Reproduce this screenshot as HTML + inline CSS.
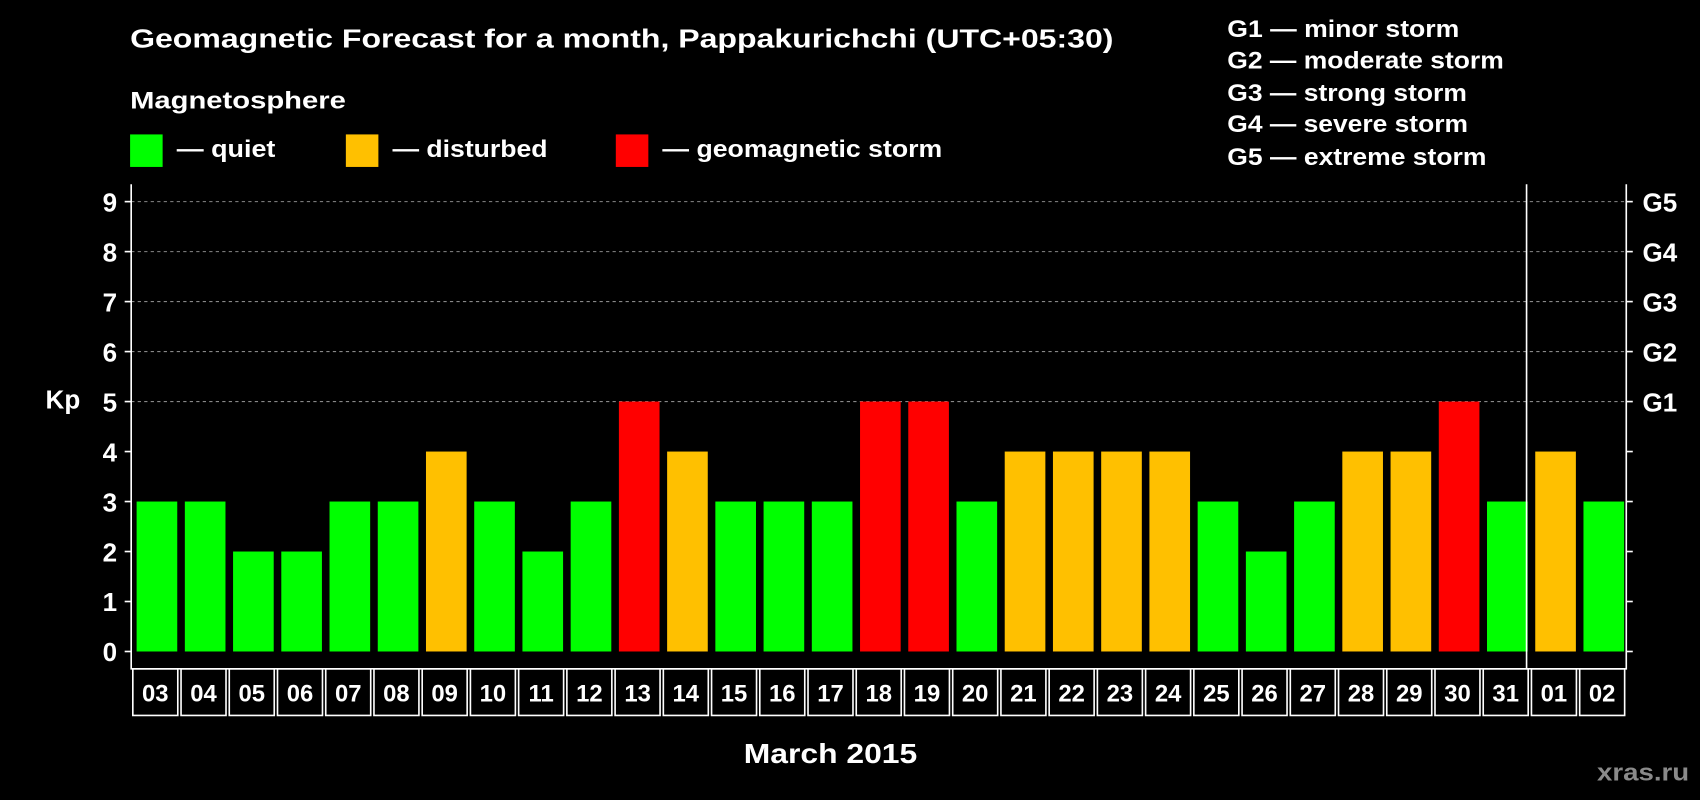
<!DOCTYPE html>
<html><head><meta charset="utf-8"><style>
html,body{margin:0;padding:0;background:#000;}
svg{display:block;}
text{font-family:"Liberation Sans",Arial,sans-serif;font-weight:bold;fill:#fff;}
</style></head><body>
<svg id="chart" width="1700" height="800" viewBox="0 0 1568 738" preserveAspectRatio="none" xmlns="http://www.w3.org/2000/svg">
<rect x="0" y="0" width="1568" height="738" fill="#000"/>
<text x="120" y="44" font-size="24" textLength="907" lengthAdjust="spacingAndGlyphs">Geomagnetic Forecast for a month, Pappakurichchi (UTC+05:30)</text>
<text x="120" y="100" font-size="22" textLength="199" lengthAdjust="spacingAndGlyphs">Magnetosphere</text>
<g>
<rect x="120" y="124" width="30" height="30" fill="#00ff00"/>
<text x="163" y="145" font-size="22" textLength="91" lengthAdjust="spacingAndGlyphs">— quiet</text>
<rect x="319" y="124" width="30" height="30" fill="#ffc000"/>
<text x="362" y="145" font-size="22" textLength="143" lengthAdjust="spacingAndGlyphs">— disturbed</text>
<rect x="568" y="124" width="30" height="30" fill="#ff0000"/>
<text x="611" y="145" font-size="22" textLength="258" lengthAdjust="spacingAndGlyphs">— geomagnetic storm</text>
</g>
<g font-size="22">
<text x="1132" y="34" textLength="214" lengthAdjust="spacingAndGlyphs">G1 — minor storm</text>
<text x="1132" y="63" textLength="255" lengthAdjust="spacingAndGlyphs">G2 — moderate storm</text>
<text x="1132" y="93" textLength="221" lengthAdjust="spacingAndGlyphs">G3 — strong storm</text>
<text x="1132" y="122" textLength="222" lengthAdjust="spacingAndGlyphs">G4 — severe storm</text>
<text x="1132" y="152" textLength="239" lengthAdjust="spacingAndGlyphs">G5 — extreme storm</text>
</g>
<g id="grid"></g>
<g id="bars"></g>
<g id="axes"></g>
<text x="58" y="377" font-size="24" text-anchor="middle">Kp</text>
<text x="686" y="704" font-size="26" textLength="160" lengthAdjust="spacingAndGlyphs">March 2015</text>
<text x="1473" y="720" font-size="22" textLength="85" lengthAdjust="spacingAndGlyphs" style="fill:#8a8a8a">xras.ru</text>
</svg>
<script>
const categories=["03","04","05","06","07","08","09","10","11","12","13","14","15","16","17","18","19","20","21","22","23","24","25","26","27","28","29","30","31","01","02"];
const kpValues=[3,3,2,2,3,3,4,3,2,3,5,4,3,3,3,5,5,3,4,4,4,4,3,2,3,4,4,5,3,4,3];
const yTicks=[0,1,2,3,4,5,6,7,8,9];
const gLabels=["G1","G2","G3","G4","G5"];
const NS="http://www.w3.org/2000/svg";
const X0=121,X1=1500,Y0=601,YTOP=186,PT=170,PB=617;
const colW=(X1-X0)/categories.length;
const y=v=>Y0-(Y0-YTOP)*v/9;
const x=i=>X0+i*colW;
function mk(tag,attrs,parent){const e=document.createElementNS(NS,tag);for(const k in attrs)e.setAttribute(k,attrs[k]);parent.appendChild(e);return e;}
const grid=document.getElementById('grid'),bars=document.getElementById('bars'),axes=document.getElementById('axes');
yTicks.forEach(t=>{
  if(t>=5){const l=mk('line',{x1:X0,x2:X1,y1:y(t),y2:y(t),stroke:'#888','stroke-dasharray':'3,3','stroke-width':1},grid);
  
  }
  const tk=mk('line',{x1:X0-6,x2:X0,y1:y(t),y2:y(t),stroke:'#fff','stroke-width':1.5},axes);
  
  
  const tr=mk('line',{x1:X1,x2:X1+6,y1:y(t),y2:y(t),stroke:'#fff','stroke-width':1.5},axes);
  
  
  const tx=mk('text',{x:X0-13,y:y(t)+9,'font-size':24,'text-anchor':'end'},axes);tx.textContent=t;
  
  
});
gLabels.forEach((g,i)=>{const t=mk('text',{x:X1+15,y:y(5+i)+9,'font-size':24},axes);t.textContent=g;
  
  });
kpValues.forEach((v,i)=>{
  const c=v>=5?'#ff0000':v>=4?'#ffc000':'#00ff00';
  const r=mk('rect',{x:x(i)+5,y:y(v),width:colW-7,height:Y0-y(v),fill:c},bars);
  
  
  const b=mk('rect',{x:x(i)+1.5,y:PB,width:colW-3,height:43,fill:'none',stroke:'#fff','stroke-width':1.5},axes);
  
  
  const t=mk('text',{x:x(i)+colW/2,y:PB+30,'font-size':22,'text-anchor':'middle'},axes);t.textContent=categories[i];
  
  
});
const frame=mk('path',{d:`M${X0},${PT}V${PB}H${X1}V${PT}`,fill:'none',stroke:'#fff','stroke-width':1.5},axes);


const sep=mk('line',{x1:x(29)-3,x2:x(29)-3,y1:PT,y2:PB,stroke:'#fff','stroke-width':1.5},axes);


</script>
</body></html>
